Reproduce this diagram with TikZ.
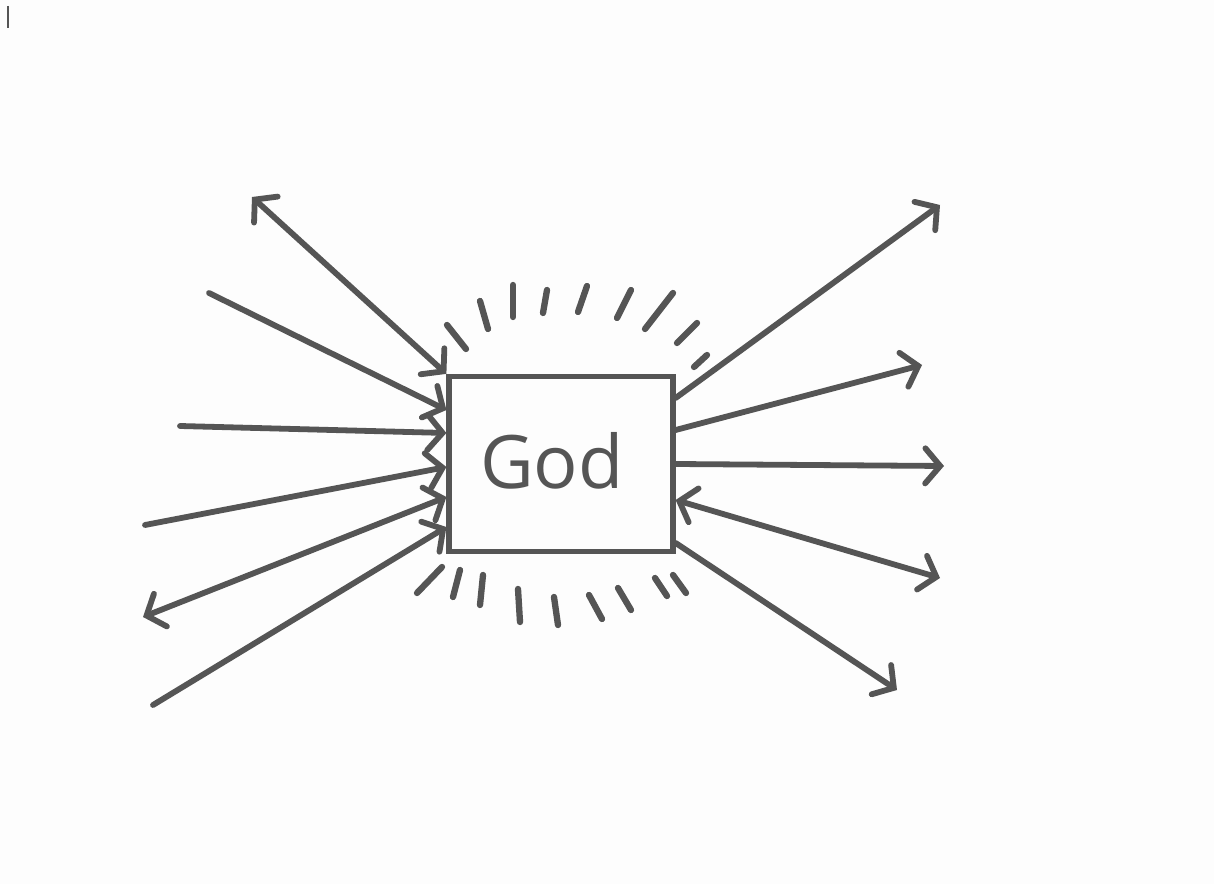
\documentclass[tikz,border=0pt]{standalone}
\usepackage{fontspec}
\setmainfont{Open Sans}
\usetikzlibrary{arrows.meta}
\definecolor{ink}{HTML}{555555}
\definecolor{paper}{HTML}{FDFDFD}
\tikzset{
  barb/.tip={Straight Barb[length=8.5pt,width=20pt,line cap=round]},
  pen/.style={draw=ink, line width=3.3pt, line cap=round, line join=round},
  ray/.style={pen, -barb},
  dray/.style={pen, barb-barb},
  glow/.style={draw=ink, line width=3.6pt, line cap=round},
  godbox/.style={draw=ink, line width=3.0pt, rectangle, minimum width=4.48cm, minimum height=3.5cm, inner sep=0pt}
}
\begin{document}
\begin{tikzpicture}[x=0.02cm, y=-0.02cm]
\fill[paper] (0,0) rectangle (1214,884);
\useasboundingbox (0,0) rectangle (1214,884);
\draw[ink, line width=1pt] (8,6) -- (8,28);

\node[godbox] (god) at (561,464) {};
\node[text=ink, font=\fontsize{42}{44}\selectfont, inner sep=0pt] (godtext) at (552,461) {God};

% free ends, left
\coordinate (L1) at (252,197);
\coordinate (L2) at (209,293);
\coordinate (L3) at (180,426);
\coordinate (L4) at (145,525);
\coordinate (L5) at (143,617);
\coordinate (L6) at (153,705);
% free ends, right
\coordinate (R1) at (940,205);
\coordinate (R2) at (922,365);
\coordinate (R3) at (944,466);
\coordinate (R4) at (940,578);
\coordinate (R5) at (897,690);

\draw[dray] (L1) -- (god.north west);
\draw[ray] (L2) -- ([yshift=1.08cm]god.west);
\draw[ray] (L3) -- ([yshift=0.62cm]god.west);
\draw[ray] (L4) -- ([yshift=-0.06cm]god.west);
\draw[dray] (L5) -- ([yshift=-0.66cm]god.west);
\draw[ray] (L6) -- ([yshift=-1.26cm]god.west);

\draw[ray] ([yshift=1.32cm]god.east) -- (R1);
\draw[ray] ([yshift=0.68cm]god.east) -- (R2);
\draw[ray] ([yshift=0cm]god.east) -- (R3);
\draw[dray] ([yshift=-0.72cm]god.east) -- (R4);
\draw[ray] ([yshift=-1.58cm]god.east) -- (R5);

% glow strokes, top
\draw[glow] (447,325) -- (466,349);
\draw[glow] (480,301) -- (488,329);
\draw[glow] (513,285) -- (513,317);
\draw[glow] (547,290) -- (543,313);
\draw[glow] (587,286) -- (578,312);
\draw[glow] (631,290) -- (617,318);
\draw[glow] (673,293) -- (645,329);
\draw[glow] (697,323) -- (677,343);
\draw[glow] (707,355) -- (694,367);
% glow strokes, bottom
\draw[glow] (442,567) -- (417,593);
\draw[glow] (460,570) -- (453,597);
\draw[glow] (483,575) -- (480,605);
\draw[glow] (518,589) -- (520,622);
\draw[glow] (554,597) -- (558,625);
\draw[glow] (589,595) -- (602,619);
\draw[glow] (618,588) -- (631,610);
\draw[glow] (655,578) -- (667,596);
\draw[glow] (673,575) -- (686,593);
\end{tikzpicture}
\end{document}
